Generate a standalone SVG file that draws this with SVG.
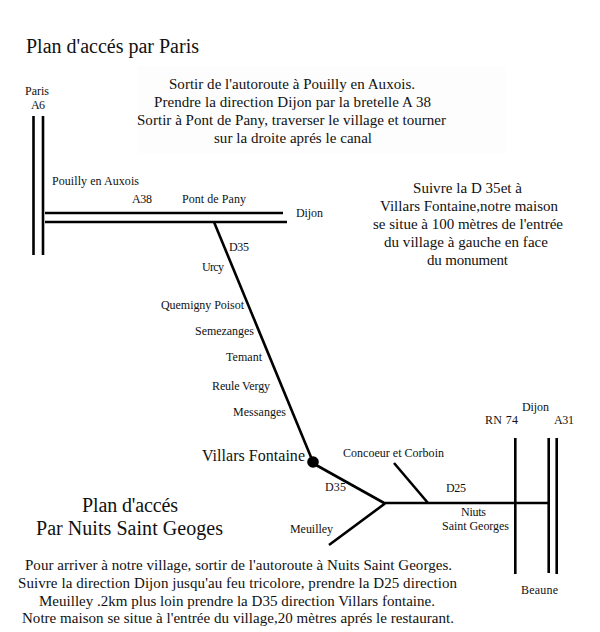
<svg xmlns="http://www.w3.org/2000/svg" width="600" height="632" viewBox="0 0 600 632">
<style>
text{font-family:"Liberation Serif","Times New Roman",serif;fill:#111}
.s{font-size:12px}.m{font-size:15px}.l{font-size:20px}
.r{fill:none;stroke:#000;stroke-width:2.6;stroke-linecap:butt}
</style>
<rect width="600" height="632" fill="#fff"/>
<rect x="138" y="66" width="368" height="87" fill="#fdfdfd"/>
<g id="connectors">
<path class="r" d="M33.500 116V255M43 116V255"/>
<path class="r" d="M45 213H283M45 222H287"/>
<path class="r" d="M214 222L313 462"/>
<path class="r" d="M316 465L385 503.500"/>
<path class="r" d="M385 503.500L329 545"/>
<path class="r" d="M385 503H548"/>
<path class="r" d="M394 463L428 503"/>
<path class="r" d="M515.300 438V574M548.700 438V573M556.700 438V574"/>
</g>
<g id="villars-fontaine"><circle cx="313" cy="462" r="5.800" fill="#000"/><text x="202" y="461" style="font-size:16px" textLength="103">Villars Fontaine</text></g>
<g id="titles">
<text class="l" x="26" y="53" textLength="173">Plan d'accés par Paris</text>
<text class="l" x="82" y="512" textLength="96">Plan d'accés</text>
<text class="l" x="36" y="535" textLength="187">Par Nuits Saint Geoges</text>
</g>
<g id="text-paris">
<text class="m" x="169" y="89" textLength="246">Sortir de l'autoroute à Pouilly en Auxois.</text>
<text class="m" x="154" y="107" textLength="277">Prendre la direction Dijon par la bretelle A 38</text>
<text class="m" x="137" y="125" textLength="309">Sortir à Pont de Pany, traverser le village et tourner</text>
<text class="m" x="214" y="143" textLength="158">sur la droite aprés le canal</text>
</g>
<g id="text-suivre">
<text class="m" x="413" y="193" textLength="109">Suivre la D 35et à</text>
<text class="m" x="380" y="211" textLength="178">Villars Fontaine,notre maison</text>
<text class="m" x="373" y="229" textLength="190">se situe à 100 mètres de l'entrée</text>
<text class="m" x="384" y="247" textLength="164">du village à gauche en face</text>
<text class="m" x="427" y="265" textLength="81">du monument</text>
</g>
<g id="text-nuits">
<text class="m" x="25" y="570" textLength="427">Pour arriver à notre village, sortir de l'autoroute à Nuits Saint Georges.</text>
<text class="m" x="18" y="588" textLength="439">Suivre la direction Dijon jusqu'au feu tricolore, prendre la D25 direction</text>
<text class="m" x="39" y="606" textLength="396">Meuilley .2km plus loin prendre la D35 direction Villars fontaine.</text>
<text class="m" x="22" y="623" textLength="432">Notre maison se situe à l'entrée du village,20 mètres aprés le restaurant.</text>
</g>
<g id="labels-north">
<text class="s" x="25" y="95" textLength="24">Paris</text>
<text class="s" x="31" y="109" textLength="14">A6</text>
<text class="s" x="52" y="185" textLength="87">Pouilly en Auxois</text>
<text class="s" x="132" y="203" textLength="20">A38</text>
<text class="s" x="182" y="203" textLength="64">Pont de Pany</text>
<text class="s" x="296" y="217" textLength="27">Dijon</text>
</g>
<g id="labels-d35">
<text class="s" x="229" y="251" textLength="20">D35</text>
<text class="s" x="202" y="271" textLength="22">Urcy</text>
<text class="s" x="161" y="309" textLength="83">Quemigny Poisot</text>
<text class="s" x="195" y="335" textLength="59">Semezanges</text>
<text class="s" x="226" y="361" textLength="36">Temant</text>
<text class="s" x="212" y="390" textLength="58">Reule Vergy</text>
<text class="s" x="233" y="416" textLength="53">Messanges</text>
</g>
<g id="labels-south">
<text class="s" x="343" y="457" textLength="101">Concoeur et Corboin</text>
<text class="s" x="325" y="491" textLength="21">D35</text>
<text class="s" x="446" y="492" textLength="20">D25</text>
<text class="s" x="290" y="533" textLength="43">Meuilley</text>
<text class="s" x="461" y="516" textLength="25">Niuts</text>
<text class="s" x="442" y="530" textLength="67">Saint Georges</text>
<text class="s" x="485" y="424" textLength="33">RN 74</text>
<text class="s" x="522" y="411" textLength="27">Dijon</text>
<text class="s" x="554" y="424" textLength="20">A31</text>
<text class="s" x="521" y="594" textLength="37">Beaune</text>
</g>
</svg>
